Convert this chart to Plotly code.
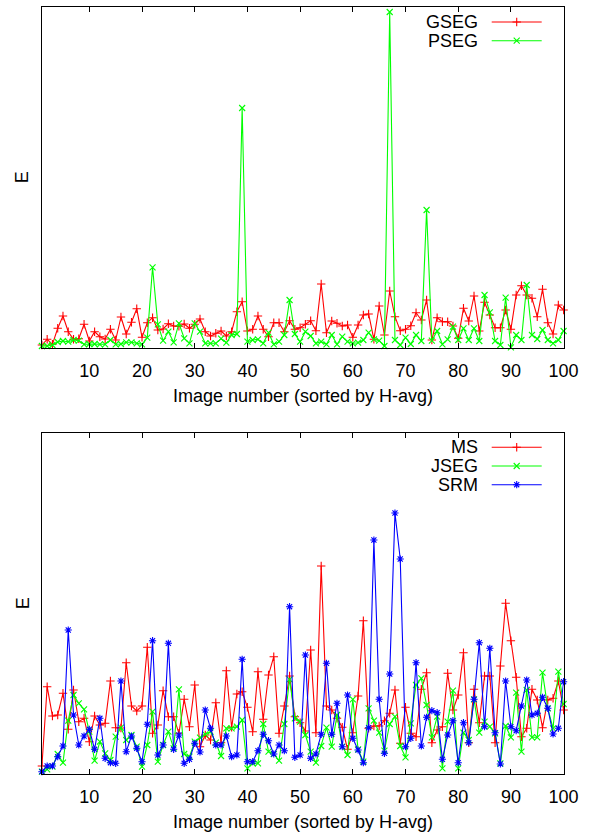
import plotly.graph_objects as go

W, H = 595, 835

image_idx = list(range(1, 101))
x_tick_vals = [10, 20, 30, 40, 50, 60, 70, 80, 90, 100]
x_tick_text = [str(v) for v in x_tick_vals]

gseg = [3, 8.7, 3.7, 19.7, 32, 16.3, 8.7, 9.3, 23.7, 7,
        16.3, 11.3, 9, 18.7, 8, 31, 14, 25.7, 39.3, 10.7,
        25.3, 30.3, 18, 19, 24.3, 22, 21.7, 24, 19.7, 23.7,
        29, 16.3, 12, 14.7, 17, 12, 16.3, 36.3, 46.3, 17,
        18.7, 32, 18.7, 11.3, 25.3, 25.3, 16.3, 27.3, 18.7, 20.3,
        23.7, 27.3, 17.3, 64, 15.3, 27, 24.7, 22, 23, 10.7,
        23, 33, 34, 8.7, 42, 13, 57, 31.3, 17.3, 18.7,
        22.3, 35.3, 28, 48, 8, 30.3, 26.3, 26.3, 22, 9.7,
        39.7, 27, 52, 17, 45.7, 33, 20.3, 20.3, 38, 18.7,
        53, 62.3, 53, 49.7, 31.3, 58.7, 25.3, 14, 43, 38]

pseg = [2, 2, 3, 6, 7, 6.3, 8, 7.3, 3.7, 4,
        4, 3.7, 3.7, 8, 3.7, 4, 5.7, 5.7, 4.7, 3.7,
        10.3, 80.7, 23.7, 7.3, 16.3, 5.7, 24.7, 9.7, 4.7, 24.7,
        16.3, 4.7, 4.7, 4.7, 9.3, 5.3, 13, 14, 240, 6.3,
        8, 8.7, 4.7, 15.3, 3.7, 6.3, 13, 48, 14, 6.3,
        16.3, 12, 4.7, 6.3, 3.7, 13, 3.7, 11.3, 6.3, 4.7,
        5.3, 8, 15.3, 8.7, 7.3, 2, 336, 8, 3, 10.3,
        4, 13, 7, 138, 7.3, 17, 3.7, 8.7, 21.3, 8,
        19.7, 8, 19.7, 7, 53, 35.7, 7, 3, 50.3, 0.7,
        13, 8, 63, 13, 9, 18, 8, 4.7, 8, 17]

ms = [8, 87.3, 58, 59, 80.7, 44.7, 84, 52.3, 55.7, 32.3,
      58, 49, 50.7, 93, 46.3, 46, 111.3, 68, 63, 68,
      126.7, 40.7, 49, 83.3, 57.3, 57.3, 40.7, 74.7, 47.3, 89,
      27.3, 39, 34, 71.3, 31.3, 103.3, 46.7, 80, 82.3, 66.7,
      42.3, 102.3, 54.7, 99, 117.3, 40.7, 68, 98, 57.3, 51.3,
      43, 124, 41.3, 208, 68, 64, 55.7, 46.7, 24.7, 41.3,
      78, 153.3, 45.7, 48, 48, 53.3, 60.7, 84, 30.7, 66.7,
      40.7, 37.3, 84.7, 101.3, 31.3, 44, 47.3, 100.7, 64, 79,
      121.3, 31.3, 84.7, 51.3, 98, 98, 31.3, 108, 170.7, 133.3,
      96.7, 37.3, 45.7, 84.7, 74, 46.3, 74, 75.7, 93, 64]

jseg = [2.3, 4.7, 7.3, 20, 11.3, 53.3, 79, 70.7, 64.7, 42.3,
        13.3, 32.3, 20.7, 14, 37.3, 46.3, 34, 39, 27.3, 7.3,
        29, 62.3, 12.3, 29, 42.3, 25.7, 84.7, 20, 17.3, 32.3,
        36.3, 39.7, 42.3, 31.3, 18, 45.7, 45.7, 47.3, 54, 5.7,
        10.7, 10.7, 50, 22.3, 20, 13.3, 50, 94.7, 55.7, 52.3,
        39, 22.3, 11.3, 28, 46.3, 27.3, 59, 27.3, 19, 74.7,
        24.7, 12.3, 65.7, 53.3, 41.3, 23.3, 50, 57.3, 28, 16.7,
        50.7, 89, 95.7, 69, 36.7, 57.3, 5.7, 52.3, 83.3, 5.7,
        41.3, 34, 74.7, 41.3, 52.3, 47.3, 40.7, 10.7, 48, 36.7,
        81.3, 22.3, 84, 36.7, 36.7, 101.3, 65.7, 45.7, 102.3, 70]

srm = [2.3, 8, 8, 17.3, 28, 144, 59, 29, 38, 44.7,
       24.7, 55.7, 15.7, 11.3, 10.7, 93, 22.3, 38, 25.7, 12.3,
       49.7, 133.3, 19, 29, 130.7, 24.7, 39, 10.7, 14.7, 30.7,
       22, 64, 45.7, 29, 29, 38, 17.3, 19, 114.7, 12.3,
       12.3, 23.3, 39.7, 33.3, 20, 29, 23.3, 167.3, 16.7, 19,
       119, 15.7, 20, 39.7, 110.7, 39.7, 70.7, 27.3, 79, 35.7,
       24, 11.3, 46.3, 234, 74.7, 20.7, 100, 261, 215, 27.3,
       35.7, 111.3, 28, 56.7, 63.3, 61.3, 14.7, 39, 53.3, 11.3,
       51.3, 31.3, 74.7, 131.3, 47.3, 125.7, 41.3, 10, 93, 47.3,
       43.3, 68, 94, 59, 60.7, 76.7, 65.7, 40, 45.7, 92.3]

top_series = [("GSEG", gseg, "#ff0000", "cross-thin"),
              ("PSEG", pseg, "#00ff00", "x-thin")]
bot_series = [("MS", ms, "#ff0000", "cross-thin"),
              ("JSEG", jseg, "#00ff00", "x-thin"),
              ("SRM", srm, "#0000ff", "asterisk")]

FONT = "Liberation Sans"
FS = 18
MSIZE = 6
LW = 1.1

# plot frames in pixels
X0, X1 = 41.9, 563.6
TOP = (7, 348)
BOT = (433, 774)


def px(x):
    return x / W


def py(y):
    return 1 - y / H


fig = go.Figure()


def add_series(series, xa, ya):
    for name, vals, col, sym in series:
        fig.add_trace(go.Scatter(
            x=image_idx, y=vals, mode="lines+markers", name=name,
            xaxis=xa, yaxis=ya, showlegend=False, cliponaxis=False,
            line=dict(color=col, width=LW),
            marker=dict(symbol=sym, size=MSIZE, color=col,
                        line=dict(color=col, width=LW))))


add_series(top_series, "x", "y")
add_series(bot_series, "x2", "y2")

# legend keys drawn on a full-page helper axis in pixel space
ann = []


def add_legend(series, y_first, step):
    for k, (name, vals, col, sym) in enumerate(series):
        yy = y_first + k * step
        fig.add_trace(go.Scatter(
            x=[491.7, 541.7], y=[yy, yy], mode="lines", xaxis="x3", yaxis="y3",
            showlegend=False, line=dict(color=col, width=LW)))
        fig.add_trace(go.Scatter(
            x=[516.7], y=[yy], mode="markers", xaxis="x3", yaxis="y3",
            showlegend=False,
            marker=dict(symbol=sym, size=MSIZE, color=col,
                        line=dict(color=col, width=LW))))
        ann.append(dict(text=name, x=px(480), y=py(yy), xref="paper", yref="paper",
                        xanchor="right", yanchor="middle", showarrow=False,
                        font=dict(family=FONT, size=FS, color="black")))


add_legend(top_series, 22, 18.7)
add_legend(bot_series, 447.3, 18.7)

for (t, b) in (TOP, BOT):
    ann.append(dict(text="Image number (sorted by H-avg)", x=px((X0 + X1) / 2),
                    y=py(b + 47.5), xref="paper", yref="paper",
                    xanchor="center", yanchor="middle", showarrow=False,
                    font=dict(family=FONT, size=FS, color="black")))
    ann.append(dict(text="E", x=px(22.7), y=py((t + b) / 2), xref="paper", yref="paper",
                    xanchor="center", yanchor="middle", showarrow=False, textangle=-90,
                    font=dict(family=FONT, size=FS, color="black")))

xcommon = dict(range=[1, 100], tickvals=x_tick_vals, ticktext=x_tick_text,
               ticks="inside", ticklen=5, tickcolor="black", tickwidth=1,
               showline=True, linecolor="black", linewidth=1, mirror="ticks",
               showgrid=False, zeroline=False, ticklabelstandoff=6,
               automargin=False,
               tickfont=dict(family=FONT, size=FS, color="black"),
               domain=[px(X0), px(X1)])
ycommon = dict(showline=True, linecolor="black", linewidth=1, mirror=True,
               ticks="", showticklabels=False, showgrid=False, zeroline=False,
               automargin=False, range=[0, 341])

fig.update_layout(
    width=W, height=H, autosize=False, margin=dict(l=0, r=0, t=0, b=0, pad=0),
    paper_bgcolor="white", plot_bgcolor="rgba(0,0,0,0)", showlegend=False,
    xaxis=dict(**xcommon, anchor="y"),
    yaxis=dict(**ycommon, domain=[py(TOP[1]), py(TOP[0])], anchor="x"),
    xaxis2=dict(**xcommon, anchor="y2"),
    yaxis2=dict(**ycommon, domain=[py(BOT[1]), py(BOT[0])], anchor="x2"),
    xaxis3=dict(range=[0, W], domain=[0, 1], visible=False, anchor="y3",
                fixedrange=True, automargin=False),
    yaxis3=dict(range=[H, 0], domain=[0, 1], visible=False, anchor="x3",
                fixedrange=True, automargin=False),
    annotations=ann,
)

fig.write_html("out.html")
